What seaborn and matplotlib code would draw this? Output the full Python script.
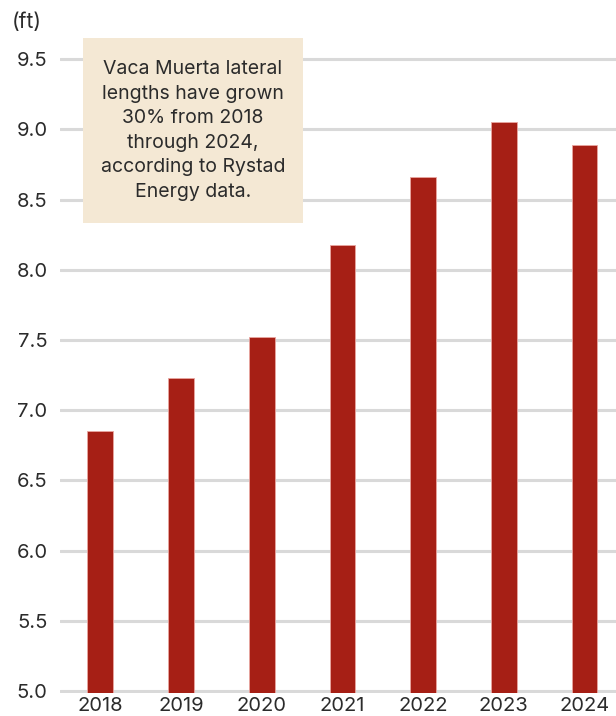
import matplotlib
matplotlib.use("Agg")
import matplotlib.pyplot as plt
import seaborn as sns
import pandas as pd

# Average lateral length per year (thousand ft)
years = ["2018", "2019", "2020", "2021", "2022", "2023", "2024"]
lengths = [6.85, 7.23, 7.52, 8.18, 8.66, 9.05, 8.89]
y_ticks = [5.0, 5.5, 6.0, 6.5, 7.0, 7.5, 8.0, 8.5, 9.0, 9.5]
note = ("Vaca Muerta lateral\nlengths have grown\n30% from 2018\n"
        "through 2024,\naccording to Rystad\nEnergy data.")

sns.set_theme(style="white")
plt.rcParams["font.family"] = ["Inter", "DejaVu Sans"]

W, H = 616, 716
fig = plt.figure(figsize=(W / 100, H / 100), dpi=100)

# axes placed in pixel terms: left edge 60px, 5.0 at y=691, 9.6 at y~45
ymin, ymax = 4.985, 9.6
ppu = 140.4
y_bot = 691 + (5.0 - ymin) * ppu
y_top = 691 - (ymax - 5.0) * ppu
ax = fig.add_axes([60 / W, (H - y_bot) / H, 1 - 60 / W, (y_bot - y_top) / H])

df = pd.DataFrame({"year": years, "length": lengths})
sns.barplot(data=df, x="year", y="length", color="#a61f15", saturation=1,
            width=0.32, edgecolor="#e9a6a0", linewidth=0.6, ax=ax, zorder=3)

ax.set_ylim(ymin, ymax)
ax.set_xlim(-0.5, 6.39)
ax.set_yticks(y_ticks)
ax.set_yticklabels([f"{v:.1f}" for v in y_ticks])
ax.yaxis.grid(True, color="#d9d9d9", linewidth=2.2, zorder=0)
ax.set_axisbelow(True)
ax.xaxis.grid(False)
for s in ax.spines.values():
    s.set_visible(False)
ax.tick_params(axis="y", length=0, pad=9, labelsize=14.5, labelcolor="#2b2b2b")
ax.tick_params(axis="x", length=0, pad=3, labelsize=14.5, labelcolor="#2b2b2b")
ax.set_xlabel("")
ax.set_ylabel("")

fig.text(12 / W, 1 - 22 / H, "(ft)", fontsize=15, color="#2b2b2b",
         ha="left", va="center")

# annotation box
bx0, bx1, by0, by1 = 83, 303, 38, 223
fig.patches.append(plt.Rectangle((bx0 / W, 1 - by1 / H), (bx1 - bx0) / W,
                                 (by1 - by0) / H, transform=fig.transFigure,
                                 facecolor="#f4e8d4", edgecolor="none", zorder=5))
fig.text((bx0 + bx1) / 2 / W, 1 - (by0 + by1) / 2 / H, note, fontsize=14,
         color="#2b2b2b", ha="center", va="center", linespacing=1.46, zorder=6)

fig.savefig("out.png", dpi=100)
